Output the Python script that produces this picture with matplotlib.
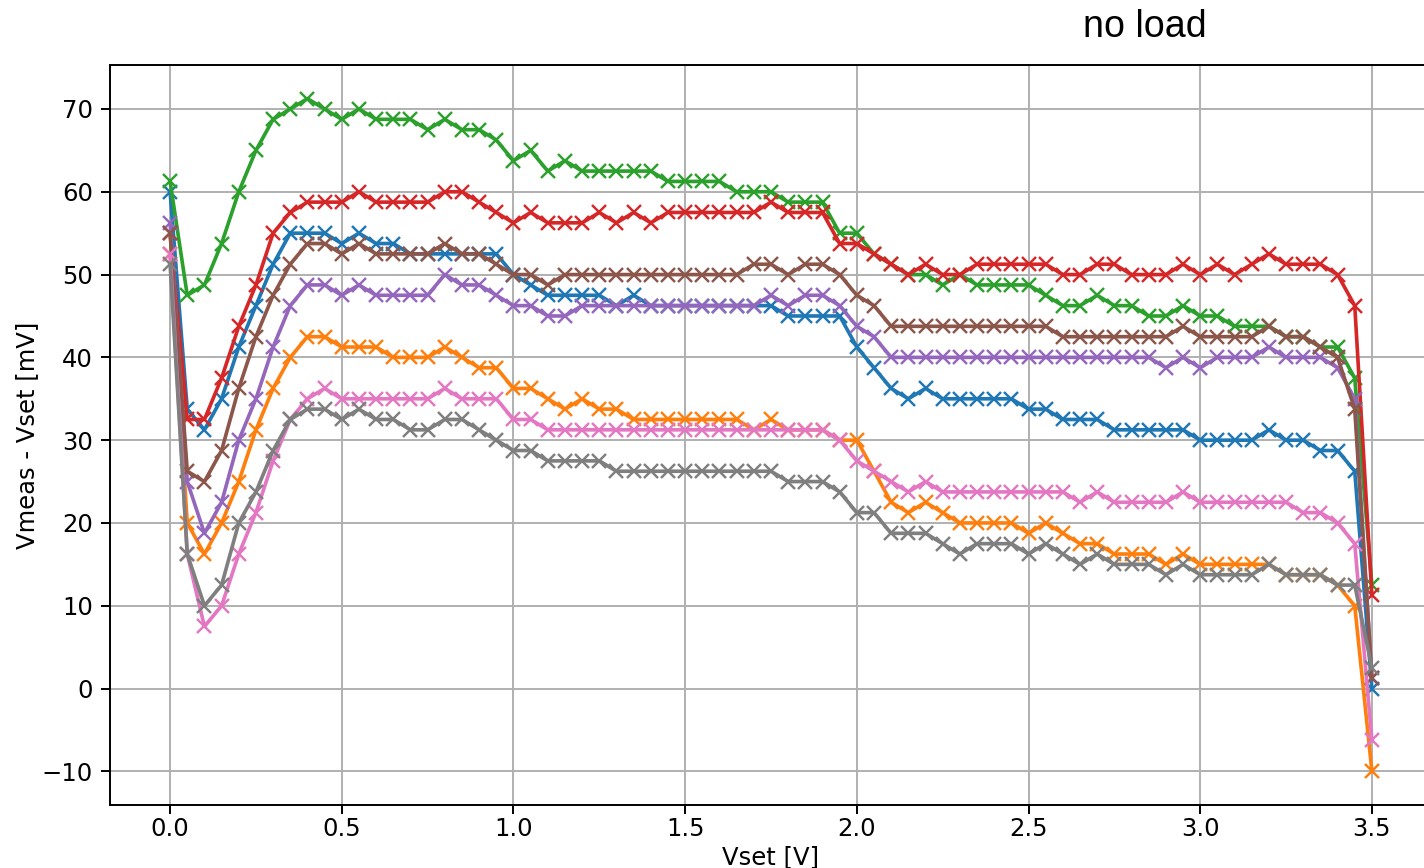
import numpy as np
import matplotlib
matplotlib.use("Agg")
import matplotlib.pyplot as plt

vset = np.linspace(0.0, 3.5, 71)

s_blue = [60, 33.75, 31.25, 35, 41.25, 46.25, 51.25, 55, 55, 55,
          53.75, 55, 53.75, 53.75, 52.5, 52.5, 52.5, 52.5, 52.5, 52.5,
          50, 48.75, 47.5, 47.5, 47.5, 47.5, 46.25, 47.5, 46.25, 46.25,
          46.25, 46.25, 46.25, 46.25, 46.25, 46.25, 45, 45, 45, 45,
          41.25, 38.75, 36.25, 35, 36.25, 35, 35, 35, 35, 35,
          33.75, 33.75, 32.5, 32.5, 32.5, 31.25, 31.25, 31.25, 31.25, 31.25,
          30, 30, 30, 30, 31.25, 30, 30, 28.75, 28.75, 26.25, 0]
s_orange = [52.5, 20, 16.25, 20, 25, 31.25, 36.25, 40, 42.5, 42.5,
            41.25, 41.25, 41.25, 40, 40, 40, 41.25, 40, 38.75, 38.75,
            36.25, 36.25, 35, 33.75, 35, 33.75, 33.75, 32.5, 32.5, 32.5,
            32.5, 32.5, 32.5, 32.5, 31.25, 32.5, 31.25, 31.25, 31.25, 30,
            30, 26.25, 22.5, 21.25, 22.5, 21.25, 20, 20, 20, 20,
            18.75, 20, 18.75, 17.5, 17.5, 16.25, 16.25, 16.25, 15, 16.25,
            15, 15, 15, 15, 15, 13.75, 13.75, 13.75, 12.5, 10, -10]
s_green = [61.25, 47.5, 48.75, 53.75, 60, 65, 68.75, 70, 71.25, 70,
           68.75, 70, 68.75, 68.75, 68.75, 67.5, 68.75, 67.5, 67.5, 66.25,
           63.75, 65, 62.5, 63.75, 62.5, 62.5, 62.5, 62.5, 62.5, 61.25,
           61.25, 61.25, 61.25, 60, 60, 60, 58.75, 58.75, 58.75, 55,
           55, 52.5, 51.25, 50, 50, 48.75, 50, 48.75, 48.75, 48.75,
           48.75, 47.5, 46.25, 46.25, 47.5, 46.25, 46.25, 45, 45, 46.25,
           45, 45, 43.75, 43.75, 43.75, 42.5, 42.5, 41.25, 41.25, 37.5, 12.5]
s_red = [55, 32.5, 32.5, 37.5, 43.75, 48.75, 55, 57.5, 58.75, 58.75,
         58.75, 60, 58.75, 58.75, 58.75, 58.75, 60, 60, 58.75, 57.5,
         56.25, 57.5, 56.25, 56.25, 56.25, 57.5, 56.25, 57.5, 56.25, 57.5,
         57.5, 57.5, 57.5, 57.5, 57.5, 58.75, 57.5, 57.5, 57.5, 53.75,
         53.75, 52.5, 51.25, 50, 51.25, 50, 50, 51.25, 51.25, 51.25,
         51.25, 51.25, 50, 50, 51.25, 51.25, 50, 50, 50, 51.25,
         50, 51.25, 50, 51.25, 52.5, 51.25, 51.25, 51.25, 50, 46.25, 11.25]
s_purple = [56.25, 25, 18.75, 22.5, 30, 35, 41.25, 46.25, 48.75, 48.75,
            47.5, 48.75, 47.5, 47.5, 47.5, 47.5, 50, 48.75, 48.75, 47.5,
            46.25, 46.25, 45, 45, 46.25, 46.25, 46.25, 46.25, 46.25, 46.25,
            46.25, 46.25, 46.25, 46.25, 46.25, 47.5, 46.25, 47.5, 47.5, 46.25,
            43.75, 42.5, 40, 40, 40, 40, 40, 40, 40, 40,
            40, 40, 40, 40, 40, 40, 40, 40, 38.75, 40,
            38.75, 40, 40, 40, 41.25, 40, 40, 40, 38.75, 35, 1.25]
s_brown = [55, 26.25, 25, 28.75, 36.25, 42.5, 47.5, 51.25, 53.75, 53.75,
           52.5, 53.75, 52.5, 52.5, 52.5, 52.5, 53.75, 52.5, 52.5, 51.25,
           50, 50, 48.75, 50, 50, 50, 50, 50, 50, 50,
           50, 50, 50, 50, 51.25, 51.25, 50, 51.25, 51.25, 50,
           47.5, 46.25, 43.75, 43.75, 43.75, 43.75, 43.75, 43.75, 43.75, 43.75,
           43.75, 43.75, 42.5, 42.5, 42.5, 42.5, 42.5, 42.5, 42.5, 43.75,
           42.5, 42.5, 42.5, 42.5, 43.75, 42.5, 42.5, 41.25, 40, 33.75, 1.25]
s_pink = [52.5, 16.25, 7.5, 10, 16.25, 21.25, 27.5, 32.5, 35, 36.25,
          35, 35, 35, 35, 35, 35, 36.25, 35, 35, 35,
          32.5, 32.5, 31.25, 31.25, 31.25, 31.25, 31.25, 31.25, 31.25, 31.25,
          31.25, 31.25, 31.25, 31.25, 31.25, 31.25, 31.25, 31.25, 31.25, 30,
          27.5, 26.25, 25, 23.75, 25, 23.75, 23.75, 23.75, 23.75, 23.75,
          23.75, 23.75, 23.75, 22.5, 23.75, 22.5, 22.5, 22.5, 22.5, 23.75,
          22.5, 22.5, 22.5, 22.5, 22.5, 22.5, 21.25, 21.25, 20, 17.5, -6.25]
s_gray = [51.25, 16.25, 10, 12.5, 20, 23.75, 28.75, 32.5, 33.75, 33.75,
          32.5, 33.75, 32.5, 32.5, 31.25, 31.25, 32.5, 32.5, 31.25, 30,
          28.75, 28.75, 27.5, 27.5, 27.5, 27.5, 26.25, 26.25, 26.25, 26.25,
          26.25, 26.25, 26.25, 26.25, 26.25, 26.25, 25, 25, 25, 23.75,
          21.25, 21.25, 18.75, 18.75, 18.75, 17.5, 16.25, 17.5, 17.5, 17.5,
          16.25, 17.5, 16.25, 15, 16.25, 15, 15, 15, 13.75, 15,
          13.75, 13.75, 13.75, 13.75, 15, 13.75, 13.75, 13.75, 12.5, 12.5, 2.5]

series = [s_blue, s_orange, s_green, s_red, s_purple, s_brown, s_pink, s_gray]

W, H, DPI = 1424, 868, 175
fig = plt.figure(figsize=(W / DPI, H / DPI), dpi=DPI)
ax = fig.add_axes([110 / W, 63 / H, (1432 - 110) / W, (805 - 65) / H])

for s in series:
    ax.plot(vset, s, marker="x")

ax.grid(True)
ax.tick_params(axis="x", pad=1.5)
ax.set_xlabel("Vset [V]", labelpad=1.5)
ax.set_ylabel("Vmeas - Vset [mV]", labelpad=1.0)

fig.text(1145 / W, 1 - 27 / H, "no load", ha="center", va="center",
         fontsize=15.5, family=["Liberation Sans", "DejaVu Sans"])

fig.savefig("out.png", dpi=DPI)
